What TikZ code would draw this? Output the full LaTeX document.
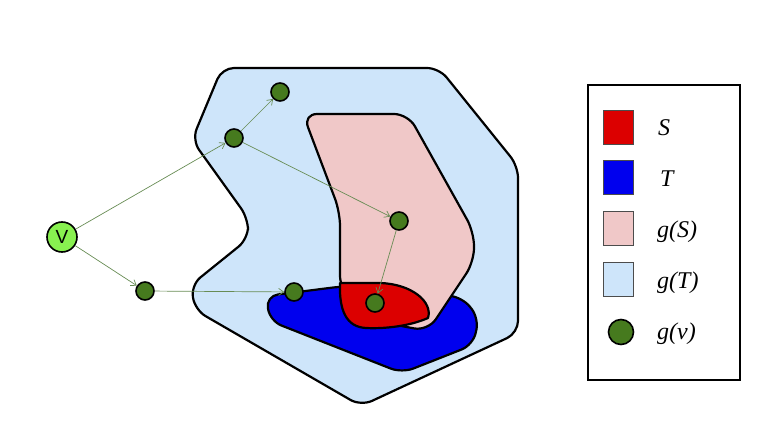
\documentclass[tikz,border=0pt]{standalone}
\usepackage{fontspec}
\setmainfont{Liberation Serif}
\newfontfamily\vfont{Liberation Sans}
\usetikzlibrary{arrows.meta}
\definecolor{regionT}{RGB}{206,229,250}
\definecolor{regionS}{RGB}{240,200,200}
\definecolor{setS}{RGB}{220,0,0}
\definecolor{setT}{RGB}{0,0,238}
\definecolor{vertex}{RGB}{70,122,30}
\definecolor{source}{RGB}{136,240,80}
\definecolor{edgecol}{RGB}{104,140,84}

\begin{document}
\begin{tikzpicture}[x=1pt,y=-1pt,
    region/.style={draw=black,line width=2.2pt,rounded corners=12pt,line join=round},
    gv/.style={circle,draw=black,line width=1.6pt,fill=vertex,minimum size=18pt,inner sep=0pt},
    link/.style={draw=edgecol,line width=0.7pt,-{Straight Barb[length=5pt,width=7pt]}},
    swatch/.style={draw=black!70,line width=0.9pt,minimum width=30pt,minimum height=34pt,inner sep=0pt},
    lbl/.style={anchor=base west,inner sep=0pt,font=\fontsize{24}{26}\selectfont\itshape}]
    \useasboundingbox (0,0) rectangle (775,438);

    % Draw the region g(T)
    \draw[region,fill=regionT] (222,68) -- (439,68) -- (518,166) -- (518,333) -- (361,406)
        -- (195,310) -- (191,285) -- (248,239) -- (248,218) -- (192,140) -- cycle;

    % Draw the set T
    \draw[region,fill=setT] (266,296) -- (345,286) -- (462,297) -- (479,318) -- (473,345)
        -- (402,373) -- (270,321) -- cycle;

    % Draw the region g(S)
    \draw[region,fill=regionS,rounded corners=14pt] (303,114) -- (408,114) -- (474,232) -- (474,262)
        -- (428,331) -- (380,322) -- (340,290) -- (340,212) -- cycle;

    % Draw the set S
    \draw[region,fill=setS,rounded corners=0pt] (340,283) -- (380,283)
        .. controls (412,284) and (433,302) .. (428,318)
        .. controls (410,326) and (385,329) .. (366,328)
        .. controls (346,327) and (339,310) .. cycle;

    % Mark the vertices
    \node[circle,draw=black,line width=1.6pt,fill=source,minimum size=30pt,inner sep=0pt,
        font=\vfont\fontsize{19}{19}\selectfont] (v) at (62,237) {V};
    \node[gv] (p1) at (234,138) {};
    \node[gv] (p2) at (280,92) {};
    \node[gv] (p3) at (399,221) {};
    \node[gv] (p4) at (375,303) {};
    \node[gv] (q1) at (145,291) {};
    \node[gv] (q2) at (294,292) {};

    % Add the arrows between the vertices
    \draw[link] (v) -- (p1);
    \draw[link] (p1) -- (p2);
    \draw[link] (p1) -- (p3);
    \draw[link] (p3) -- (p4);
    \draw[link] (v) -- (q1);
    \draw[link] (q1) -- (q2);

    % Draw the legend
    \draw[line width=2.2pt] (588,85) rectangle (740,380);
    \node[swatch,fill=setS] (keyS) at (618,127) {};
    \node[swatch,fill=setT] (keyT) at (618,177.5) {};
    \node[swatch,fill=regionS] (keygS) at (618,228) {};
    \node[swatch,fill=regionT] (keygT) at (618,279) {};
    \node[gv,minimum size=25pt] (keygv) at (621,332) {};
    \node[lbl] (labS) at (658,136) {S};
    \node[lbl] (labT) at (660,186.5) {T};
    \node[lbl] (labgS) at (657,237) {g(S)};
    \node[lbl] (labgT) at (657,288) {g(T)};
    \node[lbl] (labgv) at (657,339) {g(v)};

\end{tikzpicture}
\end{document}
